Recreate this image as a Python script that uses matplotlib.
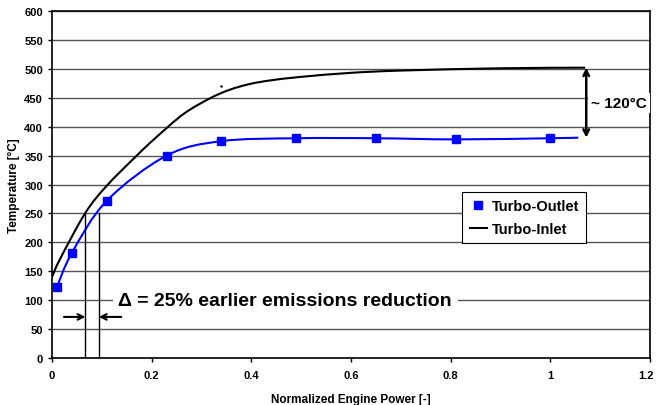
import numpy as np
import matplotlib
matplotlib.use('Agg')
import matplotlib.pyplot as plt
import matplotlib.transforms as mtransforms
from matplotlib.path import Path
from matplotlib.patches import PathPatch

plt.rcParams['font.family'] = ['Liberation Sans', 'DejaVu Sans']
plt.rcParams['font.weight'] = 'bold'

# Turbo-Outlet measured points
outlet_x = [0.01, 0.04, 0.11, 0.23, 0.34, 0.49, 0.65, 0.81, 1.0]
outlet_y = [123, 182, 272, 350, 375, 380, 380, 378, 380]
# the fitted line runs a bit past the last point
outlet_line_x = outlet_x + [1.056]
outlet_line_y = outlet_y + [381]

# Turbo-Inlet curve
inlet_x = [0.0, 0.016, 0.067, 0.11, 0.17, 0.207, 0.264, 0.317, 0.357, 0.398,
           0.438, 0.498, 0.598, 0.70, 0.90, 1.07]
inlet_y = [140, 171, 251, 298, 350, 380, 422, 449, 464, 474,
           480, 486, 493, 497, 501, 502]

# light-off points for the delta annotation
delta_x = [0.067, 0.094]
delta_top = [251, 250]

x_ticks = [0, 0.2, 0.4, 0.6, 0.8, 1.0, 1.2]
x_labels = ['0', '0.2', '0.4', '0.6', '0.8', '1', '1.2']
y_ticks = list(range(0, 601, 50))


def smooth_path(xs, ys):
    # Excel-style smoothed line as cubic Bezier segments
    pts = np.column_stack([xs, ys]).astype(float)
    n = len(pts)
    verts = [pts[0]]
    codes = [Path.MOVETO]
    for i in range(n - 1):
        p0 = pts[i - 1] if i > 0 else pts[i]
        p1 = pts[i]
        p2 = pts[i + 1]
        p3 = pts[i + 2] if i + 2 < n else pts[i + 1]
        c1 = p1 + (p2 - p0) / 6.0
        c2 = p2 - (p3 - p1) / 6.0
        verts += [c1, c2, p2]
        codes += [Path.CURVE4] * 3
    return Path(verts, codes)


fig = plt.figure(figsize=(6.56, 4.06), dpi=100)
ax = fig.add_axes([0.0793, 0.1158, 0.9116, 0.8546])

ax.set_xlim(0, 1.2)
ax.set_ylim(0, 600)
ax.set_xticks(x_ticks)
ax.set_xticklabels(x_labels)
ax.set_yticks(y_ticks)
ax.tick_params(labelsize=8, length=3, width=1, direction='out')
ax.tick_params(axis='x', pad=6)
for lab in ax.get_xticklabels() + ax.get_yticklabels():
    lab.set_fontweight('bold')
# keep the last x label inside the picture
last = ax.get_xticklabels()[-1]
last.set_transform(last.get_transform() + mtransforms.ScaledTranslation(-4 / 100, 0, fig.dpi_scale_trans))
ax.grid(axis='y', color='#555555', lw=1)
ax.set_axisbelow(True)
for s in ax.spines.values():
    s.set_linewidth(1.2)
    s.set_color('black')

ax.add_patch(PathPatch(smooth_path(inlet_x, inlet_y), fc='none', ec='black', lw=1.5, zorder=3))
ax.add_patch(PathPatch(smooth_path(outlet_line_x, outlet_line_y), fc='none', ec='#0000FF', lw=1.5, zorder=3))
ax.plot(outlet_x, outlet_y, ls='none', marker='s', ms=5.5, color='#0000FF', zorder=4, label='Turbo-Outlet')
ax.plot([], [], color='black', lw=1.5, label='Turbo-Inlet')
# stray dot in the original
ax.plot([0.339], [471], marker='.', ms=1.5, color='black')

# delta annotation
for dx, dt in zip(delta_x, delta_top):
    ax.plot([dx, dx], [0, dt], color='black', lw=1, zorder=3)
ax.annotate('', xy=(delta_x[0], 71), xytext=(0.024, 71),
            arrowprops=dict(arrowstyle='->', lw=1.5, color='black', shrinkA=0, shrinkB=0))
ax.annotate('', xy=(delta_x[1], 71), xytext=(0.139, 71),
            arrowprops=dict(arrowstyle='->', lw=1.5, color='black', shrinkA=0, shrinkB=0))
ax.text(0.133, 100, 'Δ = 25% earlier emissions reduction', fontsize=14, fontweight='bold',
        va='center', ha='left', zorder=5,
        bbox=dict(fc='white', ec='none', pad=4))

# 120 C gap annotation
ax.annotate('', xy=(1.072, 502), xytext=(1.072, 381),
            arrowprops=dict(arrowstyle='<->', lw=1.8, color='black', shrinkA=0, shrinkB=0))
ax.text(1.082, 441, '~ 120°C', fontsize=11, fontweight='bold', va='center', ha='left',
        zorder=5, clip_on=False, bbox=dict(fc='white', ec='none', pad=2))

ax.set_xlabel('Normalized Engine Power [-]', fontsize=8.5, fontweight='bold', labelpad=9)
ax.set_ylabel('Temperature [°C]', fontsize=8.5, fontweight='bold', labelpad=3)

leg = ax.legend(loc='upper left', bbox_to_anchor=(0.686, 0.478), fontsize=10.5,
                frameon=True, fancybox=False, edgecolor='black', framealpha=1,
                handlelength=1.2, handletextpad=0.3, borderpad=0.5, labelspacing=0.6,
                borderaxespad=0)
leg.get_frame().set_linewidth(0.8)
for t in leg.get_texts():
    t.set_fontweight('bold')

fig.savefig('out.png', dpi=100)
